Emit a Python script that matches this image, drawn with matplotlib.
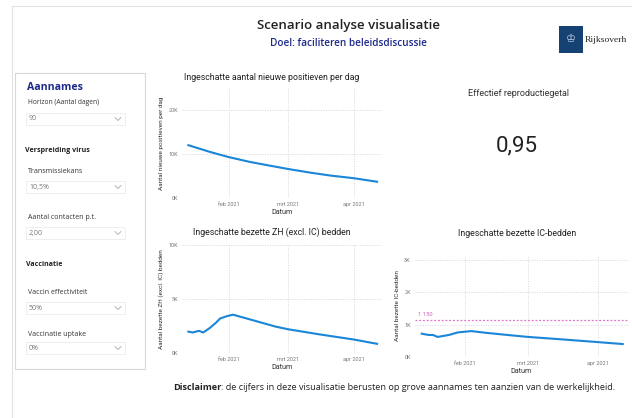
import matplotlib
matplotlib.use("Agg")
import matplotlib.pyplot as plt
from matplotlib.patches import Rectangle
from matplotlib.lines import Line2D
import pandas as pd

W, H = 632, 418

# ---------------- data ----------------
pos_dates = ["2021-01-13", "2021-01-23", "2021-02-01", "2021-02-11", "2021-02-21",
             "2021-03-01", "2021-03-11", "2021-03-21", "2021-04-01", "2021-04-12"]
pos_values = [12000, 10500, 9300, 8200, 7300, 6600, 5800, 5100, 4500, 3700]

zh_dates = ["2021-01-13", "2021-01-15", "2021-01-18", "2021-01-20", "2021-01-23",
            "2021-01-26", "2021-01-28", "2021-01-31", "2021-02-03", "2021-02-14",
            "2021-02-23", "2021-03-01", "2021-03-15", "2021-04-01", "2021-04-12"]
zh_values = [1980, 1900, 2050, 1900, 2300, 2800, 3200, 3400, 3550, 2950,
             2450, 2200, 1750, 1250, 850]

ic_dates = ["2021-01-13", "2021-01-16", "2021-01-18", "2021-01-20", "2021-01-25",
            "2021-01-29", "2021-02-04", "2021-02-10", "2021-02-20", "2021-03-01",
            "2021-03-15", "2021-04-01", "2021-04-12"]
ic_values = [720, 680, 680, 620, 680, 760, 800, 750, 680, 620, 550, 460, 400]
ic_capacity = 1150

r_value = "0,95"

month_ticks = ["2021-02-01", "2021-03-01", "2021-04-01"]
month_labels = ["feb 2021", "mrt 2021", "apr 2021"]

panel_fields = [("Horizon (Aantal dagen)", "90"),
                ("Transmissiekans", "10,5%"),
                ("Aantal contacten p.t.", "2,00"),
                ("Vaccin effectiviteit", "50%"),
                ("Vaccinatie uptake", "0%")]

# ---------------- figure ----------------
plt.rcParams['font.family'] = ['Roboto', 'DejaVu Sans']
fig = plt.figure(figsize=(W / 100, H / 100), dpi=100)
fig.patch.set_facecolor("white")
OPEN = ["Open Sans", "DejaVu Sans"]


def fx(x):
    return x / W


def fy(y):
    return 1 - y / H


def ftext(x, y, s, **kw):
    return fig.text(fx(x), fy(y), s, **kw)


# outer frame
fig.add_artist(Line2D([fx(12), fx(12)], [fy(6), fy(418)], color="#e2e2e2", lw=0.8))
fig.add_artist(Line2D([fx(12), fx(632)], [fy(6), fy(6)], color="#e2e2e2", lw=0.8))

# header
ftext(349, 26, "Scenario analyse visualisatie", ha="center", va="center",
      fontsize=9.5, fontweight="semibold", color="#222222", family=OPEN)
ftext(348, 44, "Doel: faciliteren beleidsdiscussie", ha="center", va="center",
      fontsize=7.2, fontweight="semibold", color="#1d2a8a", family=OPEN)
fig.add_artist(Rectangle((fx(559), fy(53)), fx(24), 27 / H, facecolor="#154273",
                         edgecolor="none"))
ftext(571, 39, "\u2654", ha="center", va="center", fontsize=8, color="#c8d2e0",
      family=["DejaVu Sans"])
ftext(585, 40, "Rijksoverh", ha="left", va="center", fontsize=6.8, color="#222222",
      family=["Liberation Serif", "DejaVu Serif"])

# left panel
fig.add_artist(Rectangle((fx(15), fy(369)), fx(130), (369 - 73) / H, facecolor="white",
                         edgecolor="#d8d8d8", lw=0.8))
ftext(27, 87, "Aannames", ha="left", va="center", fontsize=7.6, fontweight="bold",
      color="#1d2a8a", family=OPEN)
ftext(25, 150, "Verspreiding virus", ha="left", va="center", fontsize=5.1,
      fontweight="bold", color="#222222", family=OPEN)
ftext(26, 265, "Vaccinatie", ha="left", va="center", fontsize=5.0,
      fontweight="bold", color="#222222", family=OPEN)

label_y = [103, 172, 218, 293, 335]
label_fs = [4.8, 5.1, 5.0, 5.0, 5.0]
box_y = [119, 187, 233, 308, 348]
for (lab, val), ly, lfs, by in zip(panel_fields, label_y, label_fs, box_y):
    ftext(28, ly, lab, ha="left", va="center", fontsize=lfs, color="#333333", family=OPEN)
    fig.add_artist(Rectangle((fx(26), fy(by + 6)), fx(99), 12 / H, facecolor="white",
                             edgecolor="#ececec", lw=0.6))
    ftext(29, by, val, ha="left", va="center", fontsize=5.0, color="#777777", family=OPEN)
    fig.add_artist(Line2D([fx(115), fx(118), fx(121)], [fy(by - 1.5), fy(by + 1.5), fy(by - 1.5)],
                          color="#999999", lw=0.5))

# KPI
ftext(518, 93, "Effectief reproductiegetal", ha="center", va="center", fontsize=6.5,
      color="#333333")
ftext(517, 146, r_value, ha="center", va="center", fontsize=16, color="#222222")

# disclaimer (bold word + regular rest)
t_bold = ftext(173, 387, "Disclaimer", ha="left", va="center", fontsize=6.6,
               fontweight="bold", color="#222222", family=OPEN)
fig.canvas.draw()
bb = t_bold.get_window_extent(renderer=fig.canvas.get_renderer())
fig.text(bb.x1 / fig.bbox.width, fy(387),
         ": de cijfers in deze visualisatie berusten op grove aannames ten aanzien van de werkelijkheid.",
         ha="left", va="center", fontsize=6.6, color="#222222", family=OPEN)

LINE = "#1a86d8"
GRID = "#d6d6d6"
xmin, xmax = pd.Timestamp("2021-01-10"), pd.Timestamp("2021-04-14 08:00")


def style_axes(ax, ylim, yticks, yticklabels, ylabel, title, title_x, title_y):
    ax.set_xlim(xmin, xmax)
    ax.set_ylim(*ylim)
    ax.set_yticks(yticks)
    ax.set_yticklabels(yticklabels)
    ax.set_xticks(pd.to_datetime(month_ticks))
    ax.set_xticklabels(month_labels)
    for s in ax.spines.values():
        s.set_visible(False)
    ax.tick_params(length=0, labelsize=4, labelcolor="#777777", pad=3)
    ax.grid(True, color=GRID, linestyle=(0, (1, 1.5)), lw=0.7)
    ax.set_axisbelow(True)
    ax.set_xlabel("Datum", fontsize=5.2, color="#333333", labelpad=1)
    ax.set_ylabel(ylabel, fontsize=4.6, color="#333333", labelpad=3)
    ftext(title_x, title_y, title, ha="center", va="center", fontsize=6.3, color="#222222")


# chart 1
ax1 = fig.add_axes([fx(182), fy(198), fx(200), (198 - 88) / H])
ax1.plot(pd.to_datetime(pos_dates), pos_values, color=LINE, lw=1.5)
style_axes(ax1, (0, 25000), [0, 10000, 20000], ["0K", "10K", "20K"],
           "Aantal nieuwe positieven per dag", "Ingeschatte aantal nieuwe positieven per dag",
           272, 78)

# chart 2
ax2 = fig.add_axes([fx(182), fy(353), fx(200), (353 - 245) / H])
ax2.plot(pd.to_datetime(zh_dates), zh_values, color=LINE, lw=1.5)
style_axes(ax2, (0, 10000), [0, 5000, 10000], ["0K", "5K", "10K"],
           "Aantal bezette ZH (excl. IC) bedden", "Ingeschatte bezette ZH (excl. IC) bedden",
           272, 232)

# chart 3
ax3 = fig.add_axes([fx(415), fy(357), fx(213), (357 - 255) / H])
ax3.plot(pd.to_datetime(ic_dates), ic_values, color=LINE, lw=1.5)
ax3.axhline(ic_capacity, color="#e070c8", lw=0.9, linestyle=(0, (1.5, 1.5)))
ax3.text(0.015, ic_capacity + 90, "1 150", transform=ax3.get_yaxis_transform(),
         ha="left", va="bottom", fontsize=4.2, color="#d060b8")
style_axes(ax3, (0, 3150), [0, 1000, 2000, 3000], ["0K", "1K", "2K", "3K"],
           "Aantal bezette IC-bedden", "Ingeschatte bezette IC-bedden", 517, 233)

fig.savefig("out.png", dpi=100, facecolor="white")
